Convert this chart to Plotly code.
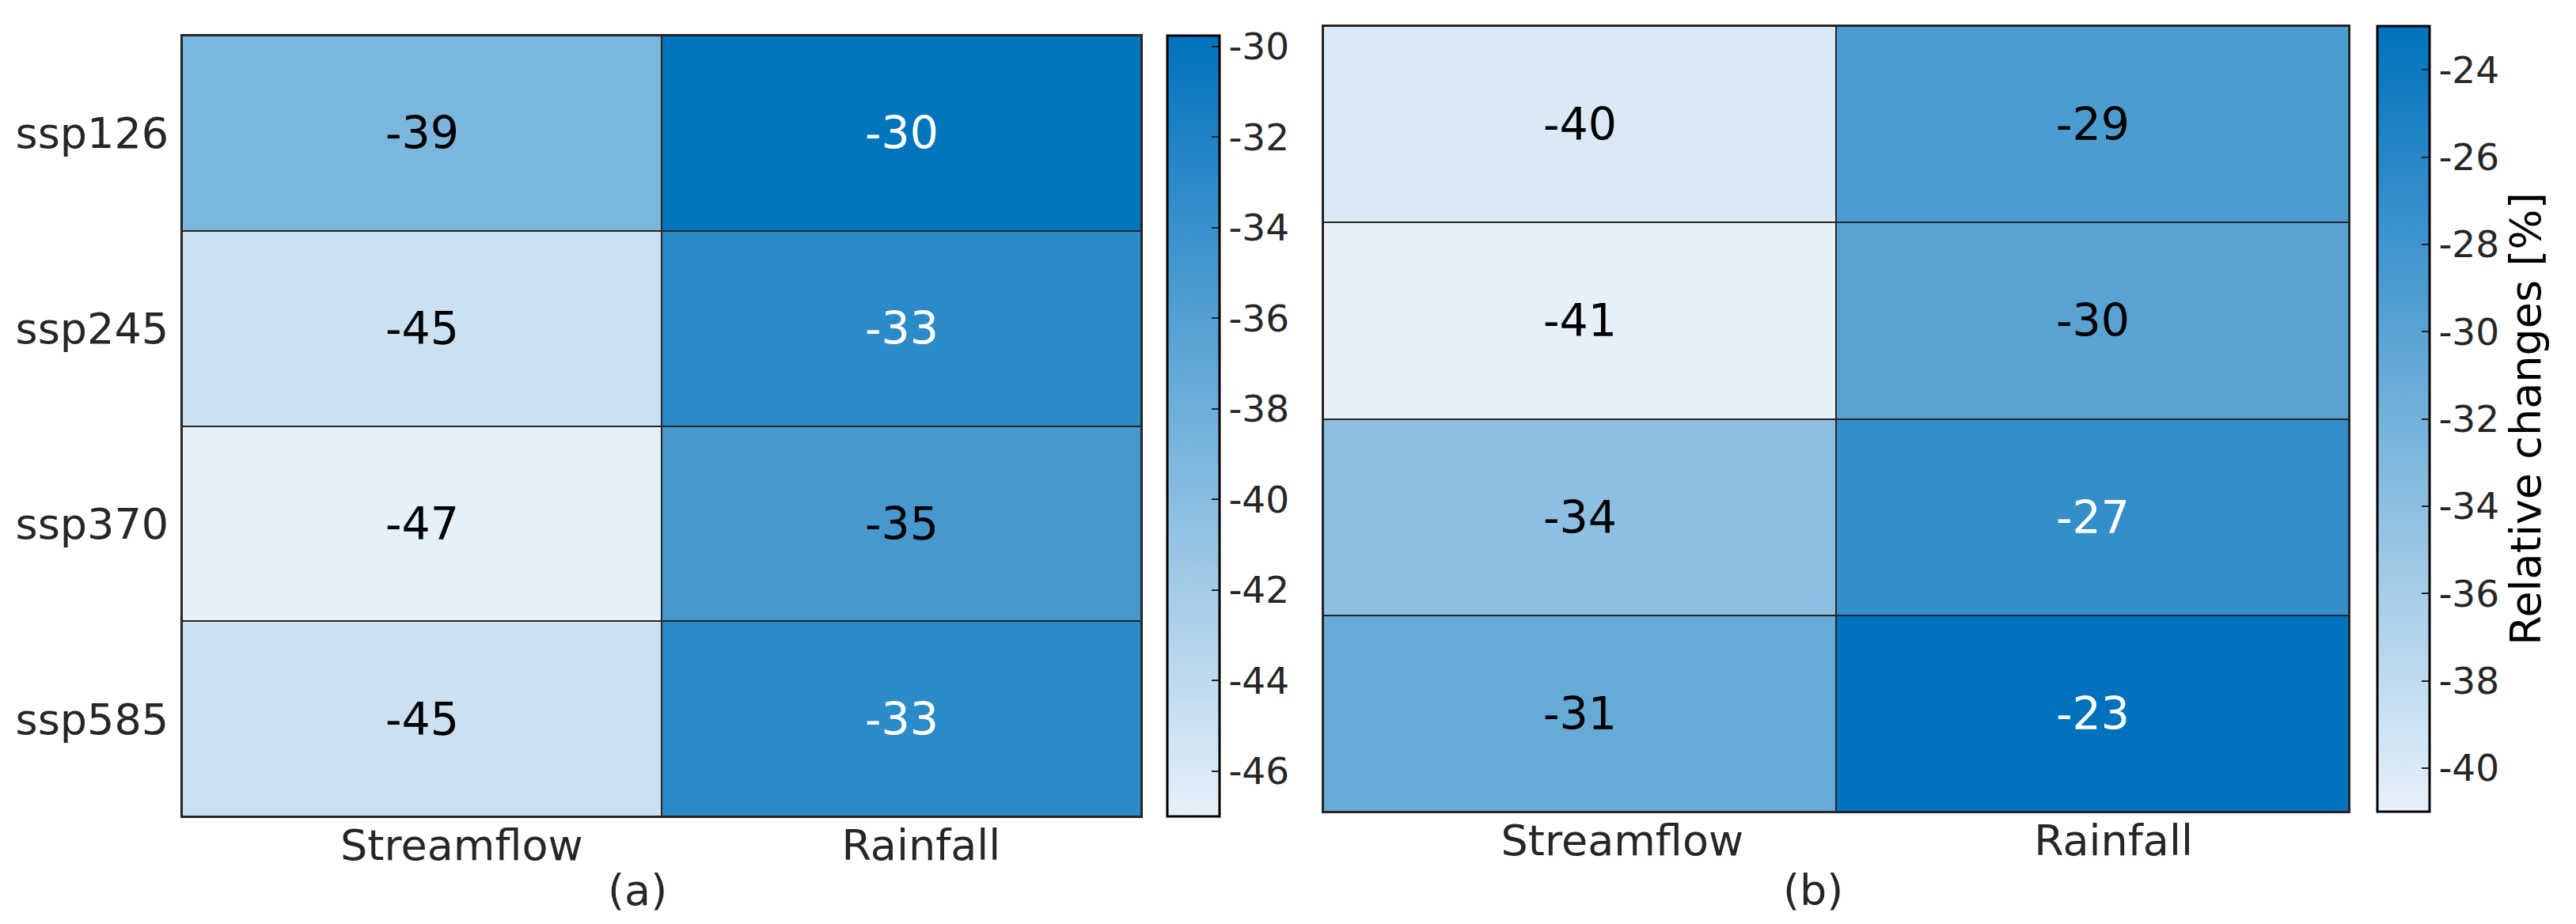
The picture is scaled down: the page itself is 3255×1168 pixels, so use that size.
import plotly.graph_objects as go

# ---------------- data ----------------
scenarios = ["ssp126", "ssp245", "ssp370", "ssp585"]
variables = ["Streamflow", "Rainfall"]

# panel (a)
streamflow_a = [-39, -45, -47, -45]
rainfall_a = [-30, -33, -35, -33]
# panel (b)
streamflow_b = [-40, -41, -34, -31]
rainfall_b = [-29, -30, -27, -23]

# colour limits
clim_a = [-47.0, -29.76]
clim_b = [-41.0, -23.0]
cbar_ticks_a = [-30, -32, -34, -36, -38, -40, -42, -44, -46]
cbar_ticks_b = [-24, -26, -28, -30, -32, -34, -36, -38, -40]
cbar_title = "Relative changes [%]"
panel_labels = ["(a)", "(b)"]

# ---------------- style ----------------
W, H = 3255, 1168
FONT = "DejaVu Sans"
TXT = "#262626"
LOW = (230, 240, 249)
HIGH = (0, 114, 189)
colorscale = [[0, "rgb(%d,%d,%d)" % LOW], [1, "rgb(%d,%d,%d)" % HIGH]]

x_pos = list(range(len(variables)))
label_shift = [0.083, 0.041]  # tick labels sit slightly right of cell centres

fig = go.Figure()


def add_panel(idx, cols, clim, ticks, xdom, ydom, cbx, cby, cblen, title, show_y):
    xa = "x" if idx == 0 else "x2"
    ya = "y" if idx == 0 else "y2"
    z = [[cols[0][i], cols[1][i]] for i in range(len(scenarios))]
    fig.add_trace(go.Heatmap(
        z=z, x=x_pos, y=scenarios, xaxis=xa, yaxis=ya,
        colorscale=colorscale, zmin=clim[0], zmax=clim[1],
        xgap=2, ygap=2, hoverinfo="skip",
        colorbar=dict(
            x=cbx, xanchor="left", y=cby, yanchor="middle", xpad=0, ypad=0,
            len=cblen, lenmode="fraction", thickness=66,
            outlinecolor="black", outlinewidth=3,
            tickmode="array", tickvals=ticks, ticktext=[str(t) for t in ticks],
            ticks="inside", ticklen=11, tickwidth=2, tickcolor=TXT,
            tickfont=dict(family=FONT, size=47, color=TXT),
            title=dict(text=title, side="right",
                       font=dict(family=FONT, size=54, color="black")),
        ),
    ))
    for i, s in enumerate(scenarios):
        for j in range(len(variables)):
            v = z[i][j]
            frac = (v - clim[0]) / (clim[1] - clim[0])
            fig.add_annotation(
                x=x_pos[j], y=s, xref=xa, yref=ya, text=str(v), showarrow=False,
                font=dict(family=FONT, size=57, color="white" if frac > 0.74 else "black"),
            )
    axx = dict(domain=xdom, range=[-0.5, 1.5], tickmode="array",
               tickvals=[p + d for p, d in zip(x_pos, label_shift)], ticktext=variables,
               showgrid=False, zeroline=False, ticks="",
               showline=True, linecolor=TXT, linewidth=2, mirror=True,
               ticklabelstandoff=-12,
               tickfont=dict(family=FONT, size=54, color=TXT), anchor=ya)
    axy = dict(domain=ydom, autorange="reversed", showgrid=False, zeroline=False, ticks="",
               showline=True, linecolor=TXT, linewidth=2, mirror=True,
               showticklabels=show_y, ticklabelstandoff=4,
               tickfont=dict(family=FONT, size=54, color=TXT), anchor=xa)
    if idx == 0:
        fig.update_layout(xaxis=axx, yaxis=axy)
    else:
        fig.update_layout(xaxis2=axx, yaxis2=axy)


add_panel(0, [streamflow_a, rainfall_a], clim_a, cbar_ticks_a,
          [222 / W, 1434 / W], [1 - 1024 / H, 1 - 37 / H],
          1467 / W, 1 - 530.5 / H, 987 / H, "", True)
add_panel(1, [streamflow_b, rainfall_b], clim_b, cbar_ticks_b,
          [1664 / W, 2960 / W], [1 - 1018 / H, 1 - 25 / H],
          2996 / W, 1 - 521.5 / H, 993 / H, cbar_title, False)

for lab, xp in zip(panel_labels, [797 / W, 2283 / W]):
    fig.add_annotation(x=xp, y=1 - 1117 / H, xref="paper", yref="paper", text=lab,
                       xanchor="center", yanchor="middle",
                       showarrow=False, font=dict(family=FONT, size=54, color=TXT))

fig.update_layout(
    width=W, height=H, margin=dict(l=0, r=0, t=0, b=0),
    paper_bgcolor="white", plot_bgcolor="#262626",
    showlegend=False,
)

fig.write_html("out.html")
